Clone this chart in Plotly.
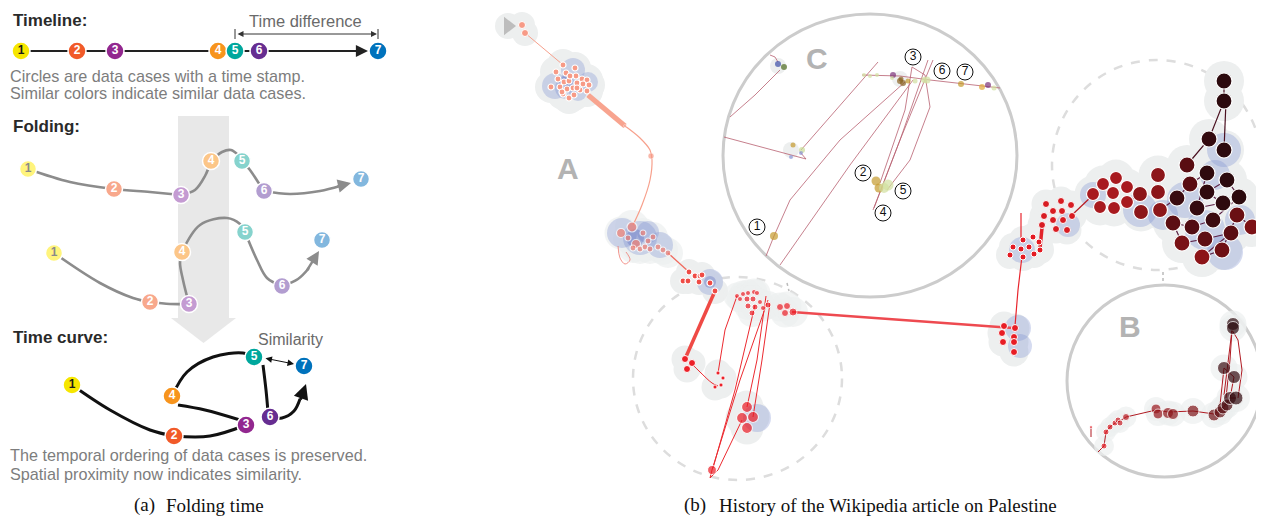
import plotly.graph_objects as go

W, H = 1264, 517
PAGE_MARGIN = 8  # default body margin of the html page

# ======================= Panel (a): Folding time =======================
node_labels = ["1", "2", "3", "4", "5", "6", "7"]
strong_colors = ["#f6e600", "#f15a29", "#92278f", "#f7941d", "#00a79d", "#662d91", "#0072bc"]
pale_colors = ["#fff47c", "#f8a88c", "#c49bd2", "#fcc688", "#86d3cd", "#b29dd0", "#82b7de"]
strong_text = ["#1a1a1a"] + ["#ffffff"] * 6
pale_text = ["#8a8a8a"] + ["#ffffff"] * 6

timeline_x = [21, 77, 115, 218, 235, 259, 378]
timeline_y = [51, 51, 51, 51, 51, 51, 51]

fold1_x = [28, 114, 181, 211, 242, 264, 361]
fold1_y = [169, 189, 195, 161, 161, 191, 179]
fold1_path_x = [28, 70, 114, 150, 181, None, 181, 195, 205, 211, None, 211, 222, 231, 238, 242, None,
                242, 250, 258, 264, None, 264, 290, 320, 340]
fold1_path_y = [169, 182, 189, 192, 195, None, 195, 190, 176, 161, None, 161, 152, 150, 155, 161, None,
                161, 170, 182, 191, None, 191, 194, 191, 186]

fold2_x = [54, 150, 189, 182, 245, 282, 322]
fold2_y = [253, 302, 304, 252, 232, 286, 240]
fold2_path_x = [54, 100, 133, 150, None, 150, 170, 189, None, 189, 183, 180, 182, None,
                182, 200, 227, 240, 245, None, 245, 257, 267, 282, None, 282, 298, 309]
fold2_path_y = [253, 283, 298, 302, None, 302, 304, 304, None, 304, 280, 263, 252, None,
                252, 225, 218, 224, 232, None, 232, 260, 278, 286, None, 286, 279, 268]

tc_x = [72, 174, 246, 172, 254, 270, 304]
tc_y = [385, 436, 425, 396, 357, 417, 366]
tc_path_x = [72, 110, 150, 174, None, 174, 210, 246, None, 240, 205, 178, None,
             172, 187, 213, 243, 254, None, 263, 266, 268, None, 270, 282, 294, 300]
tc_path_y = [385, 410, 430, 436, None, 436, 436, 425, None, 420, 410, 405, None,
             396, 372, 357, 353, 357, None, 365, 390, 412, None, 417, 418, 411, 399]

# ============= Panel (b): history of the Wikipedia article =============
start_x = [508]
start_y = [26]

s0_x = [522, 525]
s0_y = [25, 33]

a1_x = [563, 556, 566, 575, 558, 564, 569, 576, 582, 587, 551, 560, 567, 573, 577, 583, 589, 580, 587,
        563, 569, 574, 570, 577, 562]
a1_y = [65, 72, 73, 68, 79, 82, 81, 76, 79, 80, 87, 87, 89, 88, 83, 84, 85, 90, 91, 94, 98, 95, 76, 88, 92]

a2_x = [632, 621, 636, 628, 643, 648, 653, 633, 640, 645, 650, 658, 663, 668]
a2_y = [227, 233, 244, 238, 233, 241, 237, 248, 249, 247, 249, 247, 250, 253]
a2_size = [10, 9, 9, 6, 6, 6, 6, 6, 6, 6, 6, 6, 6, 6]

a3_x = [689, 695, 700, 683, 688, 699, 710, 715, 702]
a3_y = [272, 276, 276, 281, 281, 282, 283, 291, 275]

l1_x = [685, 692, 687]
l1_y = [359, 363, 369]
l2_x = [718, 723, 721, 715]
l2_y = [373, 378, 385, 387]

m_x = [737, 743, 748, 754, 757, 740, 747, 753, 748, 755, 760, 763, 768, 752, 780, 785, 787, 793]
m_y = [296, 294, 293, 292, 293, 299, 299, 299, 306, 307, 302, 308, 305, 313, 307, 313, 306, 312]
m_size = [5, 5, 5, 5, 5, 5, 6, 6, 6, 6, 5, 5, 6, 6, 7, 7, 7, 8]

d_x = [747, 742, 753, 747, 712]
d_y = [407, 418, 417, 428, 470]

e_x = [1004, 1015, 1002, 1014, 1003, 1014, 1014]
e_y = [326, 328, 333, 337, 342, 342, 352]

f_x = [1013, 1021, 1023, 1023, 1029, 1033, 1034, 1039, 1040, 1010]
f_y = [247, 249, 257, 240, 247, 237, 254, 242, 250, 255]

g_x = [1042, 1044, 1046, 1053, 1053, 1056, 1061, 1062, 1063, 1067, 1071, 1072]
g_y = [225, 216, 204, 211, 220, 229, 201, 211, 220, 230, 205, 216]

h_x = [1093, 1103, 1116, 1127, 1113, 1100, 1114, 1127]
h_y = [194, 184, 178, 187, 193, 207, 208, 202]

i_x = [1140, 1158, 1158, 1141, 1160]
i_y = [194, 175, 192, 212, 210]

j_x = [1177, 1190, 1207, 1227, 1197, 1207, 1223, 1239, 1173, 1192, 1213, 1237, 1182, 1205, 1231,
       1202, 1222, 1252, 1187, 1209, 1224, 1224, 1224]
j_y = [198, 184, 173, 180, 208, 192, 203, 197, 223, 227, 220, 215, 243, 239, 233,
       257, 250, 227, 165, 139, 150, 101, 81]
j_colors = ["#3a0b10", "#5a0d12", "#2f0a0e", "#2c0a0e", "#350a0f", "#300a0e", "#2e0a0e", "#2c0a0e",
            "#5c0e13", "#520d12", "#3b0b10", "#6a0f14", "#7a1216", "#5e0e13", "#5a0e13",
            "#8c1418", "#6e1015", "#7c1216", "#5a0d12", "#330a0f", "#2c0a0e", "#2c0a0e", "#2c0a0e"]
j_path_x = [1160, 1177, 1190, 1207, 1197, 1222, 1207, 1227, 1239, 1213, 1192, 1173, 1182, 1205,
            1231, 1202, 1222, 1237, 1252]
j_path_y = [210, 198, 184, 173, 208, 203, 192, 180, 197, 220, 227, 223, 243, 239,
            233, 257, 250, 215, 227]
jtop_x = [1187, 1209, 1224, 1224, None, 1224, 1226]
jtop_y = [165, 139, 101, 81, None, 150, 101]

blue_x = [555, 573, 588, 566, 578, 622, 640, 660, 648, 710, 757, 1018, 1020, 1022, 1068, 1093, 1140,
          1185, 1215, 1224, 1205, 1225, 1240, 1163]
blue_y = [86, 70, 82, 88, 92, 233, 238, 245, 232, 282, 418, 328, 346, 250, 225, 195, 210,
          200, 175, 150, 230, 252, 220, 215]
blue_d = [26, 24, 20, 22, 18, 30, 34, 26, 22, 26, 28, 26, 24, 26, 24, 26, 34,
          36, 30, 34, 40, 36, 30, 30]
blue_core_x = [566, 635, 710]
blue_core_y = [82, 238, 282]
blue_core_d = [14, 18, 12]

# zoom lens C
c_pts_x = [778, 784, 793, 802, 801, 791, 864, 870, 877, 893, 892, 900, 903, 901, 908, 915, 924, 927,
           961, 982, 988, 994, 774, 876, 879, 884, 888]
c_pts_y = [64, 67, 145, 150, 153, 157, 75, 76, 75, 75, 78, 81, 83, 79, 81, 81, 80, 80,
           84, 87, 85, 88, 236, 181, 188, 188, 185]
c_pts_col = ["#3c4fa8", "#4d6b1f", "#c49a2c", "#c9dc95", "#8a95d6", "#8a95d6", "#d2e0a0", "#d2e0a0",
             "#d2e0a0", "#7b3277", "#d2e0a0", "#8a6222", "#8a6222", "#8a6222", "#c49a2c", "#d2e0a0",
             "#d2e0a0", "#d2e0a0", "#c49a2c", "#e0a83a", "#7b3277", "#d2e0a0", "#c49a2c", "#c49a2c",
             "#c49a2c", "#d2e0a0", "#d2e0a0"]
c_pts_d = [6, 6, 5, 6, 4, 4, 4, 4, 4, 6, 4, 6, 6, 5, 5, 5, 6, 7, 6, 6, 6, 5, 8, 9, 9, 10, 11]
c_lines_x = [770, 775, 778, None, 780, 755, 730, None, 724, 806, 800, None, 801, 840, 878, None,
             862, 900, 930, 1000, None, 913, 850, 780, None, 905, 840, 790, 774, 766, None,
             873, 900, 933, None, 874, 900, 928, None, 880, 905, 912, 925, 930, 910, 887]
c_lines_y = [55, 57, 62, None, 70, 95, 117, None, 137, 159, 152, None, 150, 105, 62, None,
             75, 76, 80, 88, None, 80, 165, 265, None, 82, 140, 200, 236, 256, None,
             210, 140, 60, None, 208, 140, 60, None, 183, 110, 67, 75, 107, 160, 190]
c_label_x = [757, 863, 913, 883, 903, 942, 965]
c_label_y = [227, 173, 57, 213, 191, 71, 72]

# zoom lens B
b_x = [1091, 1104, 1106, 1110, 1115, 1118, 1120, 1126, 1156, 1158, 1168, 1173, 1193, 1214, 1220,
       1223, 1227, 1230, 1236, 1224, 1234, 1233, 1233]
b_y = [427, 446, 432, 427, 423, 420, 423, 417, 409, 414, 413, 414, 411, 415, 412, 408, 405, 398,
       398, 368, 377, 324, 328]
b_d = [3, 6, 6, 6, 6, 6, 6, 7, 10, 10, 11, 11, 12, 12, 12, 12, 12, 13, 14, 13, 13, 13, 13]
b_col = ["#e8202a", "#e21b24", "#de1b24", "#d81b23", "#d21a22", "#cc1a22", "#c81a21", "#b81920",
         "#9a161c", "#96161c", "#8e151a", "#8a1519", "#801418", "#701216", "#621014", "#560f13",
         "#4a0d12", "#3c0b10", "#300a0e", "#3a0b10", "#330a0f", "#2c0a0e", "#2c0a0e"]
b_path_x = [1091, 1091, None, 1098, 1104, 1106, 1110, 1115, 1120, 1126, 1156, 1168, 1193, 1214,
            1223, 1230, 1236, None, 1226, 1230, 1232, 1238, 1242, 1238, None, 1224, 1228, 1232, None,
            1220, 1222, 1224, 1234, 1230]
b_path_y = [437, 427, None, 452, 446, 432, 427, 423, 421, 417, 410, 412, 411, 414,
            408, 398, 398, None, 398, 360, 330, 340, 370, 398, None, 395, 360, 330, None,
            405, 385, 368, 377, 398]

# section letters
letters = ["A", "B", "C"]
letter_x = [568, 1130, 817]
letter_y = [168, 326, 58]

# captions
caption_tags = ["(a)", "(b)"]
caption_tag_x = [133, 683]
caption_texts = ["Folding time", "History of the Wikipedia article on Palestine"]
caption_text_x = [165, 718]
caption_bottom = 517

# ======================================================================
fig = go.Figure()


def add_line(x, y, color, width, shape="linear", dash=None):
    fig.add_trace(go.Scatter(x=x, y=y, mode="lines", hoverinfo="skip",
                             line=dict(color=color, width=width, shape=shape, dash=dash)))


def add_pts(x, y, color, size, lw=1.0, lc="white", symbol="circle", text=None, tcolor=None, tsize=11):
    fig.add_trace(go.Scatter(
        x=x, y=y, mode="markers+text" if text else "markers", hoverinfo="skip",
        marker=dict(color=color, size=size, symbol=symbol, line=dict(color=lc, width=lw)),
        text=text, textposition="middle center",
        textfont=dict(color=tcolor, size=tsize, family="Liberation Sans")))


def add_halo(x, y, size, pad, color="#edefef"):
    if isinstance(size, list):
        s = [v + pad for v in size]
    else:
        s = size + pad
    fig.add_trace(go.Scatter(x=x, y=y, mode="markers", hoverinfo="skip",
                             marker=dict(color=color, size=s, line=dict(width=0))))


bold_labels = ["<b>%s</b>" % t for t in node_labels]

# ---------------- panel (a) ----------------
# folding band + arrow
fig.add_shape(type="rect", x0=178, x1=229, y0=116, y1=318, fillcolor="#e8e8e8",
              line=dict(width=0), layer="below")
fig.add_shape(type="path", path="M 171 318 L 236 318 L 203.5 343 Z", fillcolor="#e8e8e8",
              line=dict(width=0), layer="below")

# timeline
add_line([timeline_x[0], timeline_x[-1] - 20], timeline_y[:2], "#222222", 2.2)
fig.add_annotation(x=timeline_x[-1] - 10, y=timeline_y[0], ax=timeline_x[-1] - 40, ay=timeline_y[0],
                   xref="x", yref="y", axref="x", ayref="y", text="", showarrow=True,
                   arrowhead=2, arrowsize=1.1, arrowwidth=2.2, arrowcolor="#222222")
add_pts(timeline_x, timeline_y, strong_colors, 18, lw=1.5, text=bold_labels, tcolor=strong_text, tsize=12)

# time difference bracket
add_line([timeline_x[4], timeline_x[4], None, timeline_x[6], timeline_x[6]],
         [29, 39, None, 29, 39], "#333333", 1)
fig.add_annotation(x=timeline_x[6] - 1, y=34, ax=timeline_x[4] + 1, ay=34, xref="x", yref="y",
                   axref="x", ayref="y", text="", showarrow=True, arrowhead=2, startarrowhead=2,
                   arrowside="end+start", arrowsize=1.2, arrowwidth=1, arrowcolor="#333333")

# folds
add_line(fold1_path_x, fold1_path_y, "#8c8c8c", 2.6, shape="spline")
fig.add_annotation(x=351, y=183, ax=336, ay=186.5, xref="x", yref="y", axref="x", ayref="y",
                   text="", showarrow=True, arrowhead=2, arrowsize=1.1, arrowwidth=2.4, arrowcolor="#8c8c8c")
add_pts(fold1_x, fold1_y, pale_colors, 17, lw=1.5, text=bold_labels, tcolor=pale_text, tsize=12)

add_line(fold2_path_x, fold2_path_y, "#8c8c8c", 2.6, shape="spline")
fig.add_annotation(x=319, y=251, ax=306, ay=272, xref="x", yref="y", axref="x", ayref="y",
                   text="", showarrow=True, arrowhead=2, arrowsize=1.1, arrowwidth=2.4, arrowcolor="#8c8c8c")
add_pts(fold2_x, fold2_y, pale_colors, 17, lw=1.5, text=bold_labels, tcolor=pale_text, tsize=12)

# time curve
add_line(tc_path_x, tc_path_y, "#111111", 3, shape="spline")
fig.add_annotation(x=306, y=384, ax=300, ay=401, xref="x", yref="y", axref="x", ayref="y",
                   text="", showarrow=True, arrowhead=2, arrowsize=1, arrowwidth=3, arrowcolor="#111111")
fig.add_annotation(x=tc_x[6] - 10, y=tc_y[6] - 2, ax=tc_x[4] + 10, ay=tc_y[4] + 1, xref="x", yref="y",
                   axref="x", ayref="y", text="", showarrow=True, arrowhead=2, startarrowhead=2,
                   arrowside="end+start", arrowsize=1.3, arrowwidth=1, arrowcolor="#111111")
add_pts(tc_x, tc_y, strong_colors, 18, lw=1.5, text=bold_labels, tcolor=strong_text, tsize=12)

# ---------------- panel (b) ----------------
# lens circles
fig.add_shape(type="circle", x0=723, x1=1017, y0=14, y1=297, line=dict(color="#cccccc", width=3),
              layer="below")
fig.add_shape(type="circle", x0=1067, x1=1262, y0=285, y1=477, line=dict(color="#cccccc", width=3),
              layer="below")
fig.add_shape(type="circle", x0=633, x1=842, y0=277, y1=480, line=dict(color="#dddddd", width=2.5, dash="dash"),
              layer="below")
fig.add_shape(type="circle", x0=1052, x1=1262, y0=60, y1=270, line=dict(color="#dddddd", width=2.5, dash="dash"),
              layer="below")
add_line([787, 789, None, 1163, 1163], [283, 291, None, 272, 283], "#bbbbbb", 1.5, dash="dot")

# halos
add_halo(start_x + s0_x, start_y + s0_y, 14, 12)
add_halo(a1_x, a1_y, 6, 26)
add_halo(a2_x, a2_y, a2_size, 24)
add_halo(a3_x, a3_y, 6, 20)
add_halo(l1_x + l2_x, l1_y + l2_y, 5, 22)
add_halo(m_x, m_y, m_size, 22)
add_halo(d_x[:4], d_y[:4], 11, 22)
add_halo(e_x, e_y, 7, 22)
add_halo(f_x, f_y, 6, 22)
add_halo(g_x, g_y, 7, 22)
add_halo(h_x, h_y, 13, 24)
add_halo(i_x, i_y, 15, 24)
add_halo(j_x, j_y, 16, 24)
add_halo(b_x[1:], b_y[1:], b_d[1:], 14)
add_halo([778, 791, 900], [66, 150, 79], 8, 8)

# blue similarity blobs
fig.add_trace(go.Scatter(x=blue_x, y=blue_y, mode="markers", hoverinfo="skip",
                         marker=dict(color="rgba(120,140,208,0.45)", size=blue_d, line=dict(width=0))))
fig.add_trace(go.Scatter(x=blue_core_x, y=blue_core_y, mode="markers", hoverinfo="skip",
                         marker=dict(color="rgba(80,95,185,0.45)", size=blue_core_d, line=dict(width=0))))

# trajectory lines
add_line([525, 545, 562], [33, 50, 64], "#f7a08c", 1)
add_line([588, 625], [95, 126], "#f8a48f", 5)
add_line([625, 640, 650, 652, 650, 642, 633], [126, 138, 150, 160, 180, 205, 225], "#f7a08c", 1.2,
         shape="spline")
add_line([668, 678, 689], [253, 262, 272], "#f06a5e", 1.3)
add_line([618, 620, 625, 630, 626], [246, 258, 264, 260, 252], "#f07a70", 0.8, shape="spline")
add_line([715, 700, 685], [291, 325, 359], "#ef4a45", 3.5)
add_line([691, 700, 712, 718], [363, 372, 383, 386], "#ec2a30", 1, shape="spline")
add_line([718, 725, 737], [373, 330, 296], "#ec2a30", 1)
add_line([766, 757, 747, None, 770, 762, 753, None, 768, 740, 712, 710, 718, 742, None, 755, 735, 713],
         [296, 360, 407, None, 303, 360, 417, None, 300, 380, 470, 478, 470, 420, None, 305, 390, 468],
         "#ec2a30", 1)
add_line([792, 1013], [312, 328], "#ee4a50", 2.4)
add_line([1015, 1018, 1022, None, 1021, 1021], [326, 290, 256, None, 240, 213], "#e8242c", 1.2)
add_line([1040, 1042], [248, 228], "#e2242c", 3.5)
add_line([1072, 1082, 1093], [215, 205, 195], "#b81a20", 1.2)
add_line([1127, 1140], [202, 194], "#8c161a", 1.2)
add_line(j_path_x, j_path_y, "#5c2044", 1.2)
add_line(jtop_x, jtop_y, "#4a1020", 1.2)
add_line(c_lines_x, c_lines_y, "#b86070", 0.8)
add_line(b_path_x, b_path_y, "#b01a22", 1)

# trajectory points
add_pts(start_x, start_y, "#bdbdbd", 16, lw=0, symbol="triangle-right")
add_pts(s0_x, s0_y, "#f79a86", 7, lw=1)
add_pts(a1_x, a1_y, "#f79a86", 6, lw=1.2)
add_pts([651, 625], [156, 126], "#f79a86", [6, 3], lw=0.5)
add_pts(a2_x, a2_y, "#f17f72", a2_size, lw=1.2)
add_pts(a3_x, a3_y, "#ef4b45", 6, lw=1.2)
add_pts(l1_x, l1_y, "#ec2028", 7, lw=1)
add_pts(l2_x, l2_y, "#ec2028", 4, lw=0.8)
add_pts(m_x, m_y, "#ec1c24", m_size, lw=1)
add_pts(d_x, d_y, "#ec1c24", [11, 11, 11, 11, 9], lw=1.2)
add_pts(e_x, e_y, "#e81c24", 7, lw=1)
add_pts(f_x, f_y, "#e41b23", 6, lw=1)
add_pts(g_x, g_y, "#d81c22", 7, lw=1)
add_pts(h_x, h_y, "#a81a1f", 13, lw=1.2)
add_pts(i_x, i_y, "#8c161a", 15, lw=1.2)
add_pts(j_x, j_y, j_colors, 16, lw=1.2)
add_pts(c_pts_x, c_pts_y, c_pts_col, c_pts_d, lw=0)
add_pts(b_x, b_y, b_col, b_d, lw=1)

# numbered labels inside lens C
add_pts(c_label_x, c_label_y, "white", 16, lw=1, lc="#111111", text=node_labels, tcolor="#111111", tsize=12)

# ---------------- texts ----------------
grey = "#7d7d7d"
texts = [
    ("<b>Timeline:</b>", 11, 20, "left", 17, "#2a2a2a"),
    ("Time difference", 305, 21, "center", 16.5, "#6a6a6a"),
    ("Circles are data cases with a time stamp.", 8, 76, "left", 16.2, grey),
    ("Similar colors indicate similar data cases.", 8, 93, "left", 16.2, grey),
    ("<b>Folding:</b>", 11, 126, "left", 17, "#2a2a2a"),
    ("<b>Time curve:</b>", 11, 337, "left", 17, "#2a2a2a"),
    ("Similarity", 290, 339, "center", 16, "#6a6a6a"),
    ("The temporal ordering of data cases is preserved.", 8, 455, "left", 16.2, grey),
    ("Spatial proximity now indicates similarity.", 8, 474, "left", 16.2, grey),
]
for t, x, y, anchor, size, col in texts:
    fig.add_annotation(x=x, y=y, text=t, showarrow=False, xanchor=anchor, yanchor="middle",
                       font=dict(family="Liberation Sans", size=size, color=col))

for tag, tx, txt, xx in zip(caption_tags, caption_tag_x, caption_texts, caption_text_x):
    fig.add_annotation(x=tx, y=caption_bottom, text=tag, showarrow=False, xanchor="left", yanchor="bottom",
                       borderpad=0, font=dict(family="Liberation Serif", size=19, color="#111111"))
    fig.add_annotation(x=xx, y=caption_bottom, text=txt, showarrow=False, xanchor="left", yanchor="bottom",
                       borderpad=0, font=dict(family="Liberation Serif", size=19, color="#111111"))

for t, x, y in zip(letters, letter_x, letter_y):
    fig.add_annotation(x=x, y=y, text="<b>%s</b>" % t, showarrow=False, xanchor="center", yanchor="middle",
                       font=dict(family="Liberation Sans", size=30, color="#b3b3b3"))

# the html page has an 8px body margin: shrink the figure and shift the ranges so that
# data coordinates coincide with window pixels
fig.update_layout(
    width=W - PAGE_MARGIN, height=H - PAGE_MARGIN, margin=dict(l=0, r=0, t=0, b=0),
    paper_bgcolor="white", plot_bgcolor="white", showlegend=False,
    xaxis=dict(range=[PAGE_MARGIN, W], visible=False, fixedrange=True),
    yaxis=dict(range=[H, PAGE_MARGIN], visible=False, fixedrange=True),
)
fig.write_html("out.html")
